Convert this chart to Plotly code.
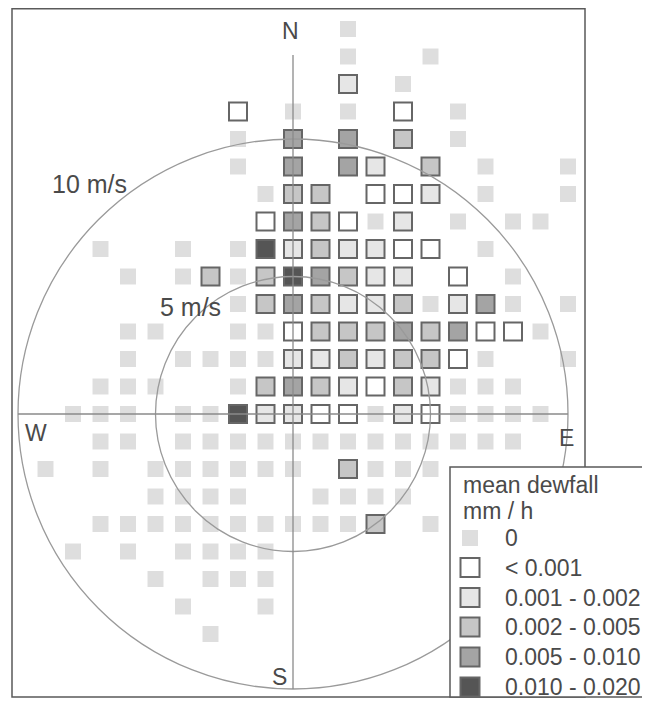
import plotly.graph_objects as go

# ---------------- data ----------------
# wind components (m/s): u = west->east, v = south->north
u_values = list(range(-10, 11))          # column positions
v_values = list(range(14, -9, -1))       # row positions (top to bottom)
# class code per cell: '.' = no data, 0..5 = class index below
class_rows = [
    "............0........",   # v=14
    "............0..0.....",   # v=13
    "............2.0......",   # v=12
    "........1.0.0.1.0....",   # v=11
    "........0.4.4.3.0....",   # v=10
    "........0.4.42.3.0..0",   # v=9
    ".........033.112.0..0",   # v=8
    ".........143102.0.00.",   # v=7
    "...0..0.05232211.0...",   # v=6
    "....0.030354322.1.0..",   # v=5
    "........03432230240.0",   # v=4
    "....00..001333434110.",   # v=3
    "....0.000022323310..0",   # v=2
    "...000..03432132000..",   # v=1
    "..000.00522110210000.",   # v=0
    "...00.0000000000000..",   # v=-1
    ".0.0.000000.3000.....",   # v=-2
    ".....0000..0000......",   # v=-3
    "...00000000003.0.....",   # v=-4
    "..0.0.0000...........",   # v=-5
    ".....0.000...........",   # v=-6
    "......0..0...........",   # v=-7
    ".......0.............",   # v=-8
]
class_labels = ["0", "< 0.001", "0.001 - 0.002", "0.002 - 0.005",
                "0.005 - 0.010", "0.010 - 0.020"]
class_fill = ["#dedede", "#ffffff", "#e6e6e6", "#c6c6c6", "#a4a4a4", "#555555"]
ring_speeds = [5, 10]
ring_labels = ["5 m/s", "10 m/s"]

# ---------------- geometry ----------------
W, H = 650, 703          # browser window
OFF = 8                  # default page body margin
SCALE = 27.5             # px per m/s
CX, CY = 293, 414        # page pixel of the origin


def px2x(px):
    return (px - CX) / SCALE


def py2y(py):
    return (CY - py) / SCALE


TXT = "#4a4a4a"
FONT = "Liberation Sans, Arial, sans-serif"
OUTLINE = "#666666"

fig = go.Figure()

for k in range(len(class_labels)):
    xs, ys = [], []
    for v, row in zip(v_values, class_rows):
        for u, ch in zip(u_values, row):
            if ch != "." and int(ch) == k:
                xs.append(u)
                ys.append(v)
    if k == 0:
        marker = dict(symbol="square", size=16, color=class_fill[k],
                      line=dict(width=0))
    else:
        marker = dict(symbol="square", size=18, color=class_fill[k],
                      line=dict(width=2, color=OUTLINE))
    fig.add_trace(go.Scatter(x=xs, y=ys, mode="markers", marker=marker,
                             name=class_labels[k], showlegend=False,
                             hoverinfo="skip"))

shapes = []
# rings
for r in ring_speeds:
    shapes.append(dict(type="circle", xref="x", yref="y", x0=-r, x1=r, y0=-r, y1=r,
                       line=dict(color="#9a9a9a", width=1.3), layer="above"))
# axes cross
shapes.append(dict(type="line", xref="x", yref="y", x0=0, x1=0, y0=py2y(55), y1=-10,
                   line=dict(color="#8a8a8a", width=1.3), layer="above"))
shapes.append(dict(type="line", xref="x", yref="y", x0=-10, x1=10, y0=0, y1=0,
                   line=dict(color="#8a8a8a", width=1.3), layer="above"))
# outer frame
shapes.append(dict(type="rect", xref="x", yref="y", x0=px2x(12), x1=px2x(585),
                   y0=py2y(8.8), y1=py2y(697),
                   line=dict(color="#5a5a5a", width=1.5), layer="above"))
# legend box
shapes.append(dict(type="rect", xref="x", yref="y", x0=px2x(450), x1=px2x(670),
                   y0=py2y(467), y1=py2y(697), fillcolor="white",
                   line=dict(color="#5a5a5a", width=1.5), layer="above"))

annotations = []
leg_rows = [538, 567.5, 597.5, 627, 657, 687]
for k, (lab, yy) in enumerate(zip(class_labels, leg_rows)):
    half = 8 if k == 0 else 9.5
    shapes.append(dict(type="rect", xref="x", yref="y",
                       x0=px2x(470 - half), x1=px2x(470 + half),
                       y0=py2y(yy - half), y1=py2y(yy + half),
                       fillcolor=class_fill[k],
                       line=dict(color=OUTLINE, width=0 if k == 0 else 2),
                       layer="above"))
    annotations.append(dict(x=px2x(503), y=py2y(yy), text=lab, showarrow=False,
                            xanchor="left", yanchor="middle",
                            font=dict(family=FONT, size=23, color=TXT)))
annotations.append(dict(x=px2x(461), y=py2y(485), text="mean dewfall", showarrow=False,
                        xanchor="left", yanchor="middle",
                        font=dict(family=FONT, size=23, color=TXT)))
annotations.append(dict(x=px2x(461), y=py2y(511), text="mm / h", showarrow=False,
                        xanchor="left", yanchor="middle",
                        font=dict(family=FONT, size=23, color=TXT)))

# compass letters
for txt, px, py in [("N", 290, 31), ("S", 279, 677), ("W", 36, 433), ("E", 566, 438)]:
    annotations.append(dict(x=px2x(px), y=py2y(py), text=txt, showarrow=False,
                            xanchor="center", yanchor="middle",
                            font=dict(family=FONT, size=23, color=TXT)))
# ring labels
for lab, px, py in zip(ring_labels, [190, 89], [307, 184]):
    annotations.append(dict(x=px2x(px), y=py2y(py), text=lab, showarrow=False,
                            xanchor="center", yanchor="middle",
                            font=dict(family=FONT, size=25, color=TXT)))

fig.update_layout(
    width=W - OFF, height=H - OFF,
    margin=dict(l=0, r=0, t=0, b=0),
    paper_bgcolor="white", plot_bgcolor="white",
    xaxis=dict(range=[px2x(OFF), px2x(W)], visible=False, showgrid=False,
               zeroline=False, fixedrange=True),
    yaxis=dict(range=[py2y(H), py2y(OFF)], visible=False, showgrid=False,
               zeroline=False, fixedrange=True),
    shapes=shapes, annotations=annotations, showlegend=False,
)

fig.write_html("out.html", config={"displayModeBar": False})
